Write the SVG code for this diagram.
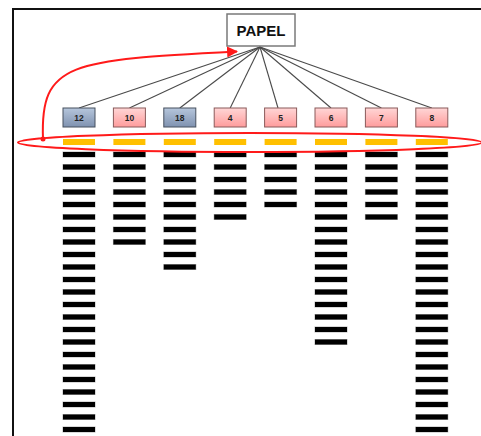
<svg xmlns="http://www.w3.org/2000/svg" width="481" height="436" viewBox="0 0 481 436">
  <style>
    .frame { fill: none; stroke: #111; stroke-width: 2; }
    .link { stroke: #4a4a4a; stroke-width: 1.1; fill: none; }
    .root { fill: #fff; stroke: #7a7a7a; stroke-width: 1.5; }
    .root-text { font-family: "Liberation Sans", Arial, sans-serif; font-weight: bold; font-size: 15px; fill: #111; text-anchor: middle; }
    .box { stroke-width: 1; }
    .blue { fill: url(#gBlue); stroke: #46505f; }
    .pink { fill: url(#gPink); stroke: #8a5a5a; }
    .lbl { font-family: "Liberation Sans", Arial, sans-serif; font-weight: bold; font-size: 8.5px; fill: #222; text-anchor: middle; }
    .head { fill: #FFC000; }
    .bar { fill: #000; stroke: #000; stroke-opacity: 0.3; stroke-width: 1; }
    .loop { fill: none; stroke: #ff1a1a; stroke-width: 2; }
  </style>
  <defs>
    <linearGradient id="gBlue" x1="0" y1="0" x2="0" y2="1">
      <stop offset="0" stop-color="#b6c6dc"/>
      <stop offset="1" stop-color="#7f92b0"/>
    </linearGradient>
    <linearGradient id="gPink" x1="0" y1="0" x2="0" y2="1">
      <stop offset="0" stop-color="#ffd6d6"/>
      <stop offset="1" stop-color="#ff9c9c"/>
    </linearGradient>
    <rect id="bar" width="32" height="5" class="bar"/>
    <marker id="arrow" viewBox="0 0 10 10" refX="9" refY="5" markerWidth="5.5" markerHeight="5.5" orient="auto" markerUnits="strokeWidth">
      <path d="M0,0 L10,5 L0,10 Z" fill="#ff1a1a"/>
    </marker>
  </defs>

  <rect width="481" height="436" fill="#fff"/>
  <!-- outer frame (left and top edges) -->
  <path class="frame" d="M13,436 V9 H481"/>

  <!-- connectors from PAPEL to each stack -->
  <g id="connectors">
    <line class="link" x1="260" y1="47" x2="79" y2="108"/>
    <line class="link" x1="260" y1="47" x2="129.4" y2="108"/>
    <line class="link" x1="260" y1="47" x2="179.8" y2="108"/>
    <line class="link" x1="260" y1="47" x2="230.2" y2="108"/>
    <line class="link" x1="260" y1="47" x2="278" y2="108"/>
    <line class="link" x1="260" y1="47" x2="331" y2="108"/>
    <line class="link" x1="260" y1="47" x2="381.4" y2="108"/>
    <line class="link" x1="260" y1="47" x2="431.8" y2="108"/>
  </g>

  <g id="papel">
    <rect class="root" x="227" y="14" width="68" height="32"/>
    <text class="root-text" x="261" y="36">PAPEL</text>
  </g>

  <!-- stack 12 -->
  <g id="col-12">
    <rect class="box blue" x="63" y="108" width="32" height="19"/>
    <text class="lbl" x="79" y="120.5">12</text>
    <rect class="head" x="63" y="139" width="32" height="6"/>
    <g transform="translate(63,152)">
      <use href="#bar" y="0"/><use href="#bar" y="12.5"/><use href="#bar" y="25"/><use href="#bar" y="37.5"/>
      <use href="#bar" y="50"/><use href="#bar" y="62.5"/><use href="#bar" y="75"/><use href="#bar" y="87.5"/>
      <use href="#bar" y="100"/><use href="#bar" y="112.5"/><use href="#bar" y="125"/><use href="#bar" y="137.5"/>
      <use href="#bar" y="150"/><use href="#bar" y="162.5"/><use href="#bar" y="175"/><use href="#bar" y="187.5"/>
      <use href="#bar" y="200"/><use href="#bar" y="212.5"/><use href="#bar" y="225"/><use href="#bar" y="237.5"/>
      <use href="#bar" y="250"/><use href="#bar" y="262.5"/><use href="#bar" y="275"/>
    </g>
  </g>

  <!-- stack 10 -->
  <g id="col-10">
    <rect class="box pink" x="113.4" y="108" width="32" height="19"/>
    <text class="lbl" x="129.4" y="120.5">10</text>
    <rect class="head" x="113.4" y="139" width="32" height="6"/>
    <g transform="translate(113.4,152)">
      <use href="#bar" y="0"/><use href="#bar" y="12.5"/><use href="#bar" y="25"/><use href="#bar" y="37.5"/>
      <use href="#bar" y="50"/><use href="#bar" y="62.5"/><use href="#bar" y="75"/><use href="#bar" y="87.5"/>
    </g>
  </g>

  <!-- stack 18 -->
  <g id="col-18">
    <rect class="box blue" x="163.8" y="108" width="32" height="19"/>
    <text class="lbl" x="179.8" y="120.5">18</text>
    <rect class="head" x="163.8" y="139" width="32" height="6"/>
    <g transform="translate(163.8,152)">
      <use href="#bar" y="0"/><use href="#bar" y="12.5"/><use href="#bar" y="25"/><use href="#bar" y="37.5"/>
      <use href="#bar" y="50"/><use href="#bar" y="62.5"/><use href="#bar" y="75"/><use href="#bar" y="87.5"/>
      <use href="#bar" y="100"/><use href="#bar" y="112.5"/>
    </g>
  </g>

  <!-- stack 4 -->
  <g id="col-4">
    <rect class="box pink" x="214.2" y="108" width="32" height="19"/>
    <text class="lbl" x="230.2" y="120.5">4</text>
    <rect class="head" x="214.2" y="139" width="32" height="6"/>
    <g transform="translate(214.2,152)">
      <use href="#bar" y="0"/><use href="#bar" y="12.5"/><use href="#bar" y="25"/><use href="#bar" y="37.5"/>
      <use href="#bar" y="50"/><use href="#bar" y="62.5"/>
    </g>
  </g>

  <!-- stack 5 -->
  <g id="col-5">
    <rect class="box pink" x="264.6" y="108" width="32" height="19"/>
    <text class="lbl" x="280.6" y="120.5">5</text>
    <rect class="head" x="264.6" y="139" width="32" height="6"/>
    <g transform="translate(264.6,152)">
      <use href="#bar" y="0"/><use href="#bar" y="12.5"/><use href="#bar" y="25"/><use href="#bar" y="37.5"/>
      <use href="#bar" y="50"/>
    </g>
  </g>

  <!-- stack 6 -->
  <g id="col-6">
    <rect class="box pink" x="315" y="108" width="32" height="19"/>
    <text class="lbl" x="331" y="120.5">6</text>
    <rect class="head" x="315" y="139" width="32" height="6"/>
    <g transform="translate(315,152)">
      <use href="#bar" y="0"/><use href="#bar" y="12.5"/><use href="#bar" y="25"/><use href="#bar" y="37.5"/>
      <use href="#bar" y="50"/><use href="#bar" y="62.5"/><use href="#bar" y="75"/><use href="#bar" y="87.5"/>
      <use href="#bar" y="100"/><use href="#bar" y="112.5"/><use href="#bar" y="125"/><use href="#bar" y="137.5"/>
      <use href="#bar" y="150"/><use href="#bar" y="162.5"/><use href="#bar" y="175"/><use href="#bar" y="187.5"/>
    </g>
  </g>

  <!-- stack 7 -->
  <g id="col-7">
    <rect class="box pink" x="365.4" y="108" width="32" height="19"/>
    <text class="lbl" x="381.4" y="120.5">7</text>
    <rect class="head" x="365.4" y="139" width="32" height="6"/>
    <g transform="translate(365.4,152)">
      <use href="#bar" y="0"/><use href="#bar" y="12.5"/><use href="#bar" y="25"/><use href="#bar" y="37.5"/>
      <use href="#bar" y="50"/><use href="#bar" y="62.5"/>
    </g>
  </g>

  <!-- stack 8 -->
  <g id="col-8">
    <rect class="box pink" x="415.8" y="108" width="32" height="19"/>
    <text class="lbl" x="431.8" y="120.5">8</text>
    <rect class="head" x="415.8" y="139" width="32" height="6"/>
    <g transform="translate(415.8,152)">
      <use href="#bar" y="0"/><use href="#bar" y="12.5"/><use href="#bar" y="25"/><use href="#bar" y="37.5"/>
      <use href="#bar" y="50"/><use href="#bar" y="62.5"/><use href="#bar" y="75"/><use href="#bar" y="87.5"/>
      <use href="#bar" y="100"/><use href="#bar" y="112.5"/><use href="#bar" y="125"/><use href="#bar" y="137.5"/>
      <use href="#bar" y="150"/><use href="#bar" y="162.5"/><use href="#bar" y="175"/><use href="#bar" y="187.5"/>
      <use href="#bar" y="200"/><use href="#bar" y="212.5"/><use href="#bar" y="225"/><use href="#bar" y="237.5"/>
      <use href="#bar" y="250"/><use href="#bar" y="262.5"/><use href="#bar" y="275"/>
    </g>
  </g>

  <!-- highlight round the top row and the return loop to PAPEL -->
  <g id="loop">
    <ellipse class="loop" cx="250" cy="142.5" rx="232" ry="9.5"/>
    <path class="loop" d="M43,139 C40,62 70,60 237,51.5" marker-end="url(#arrow)"/>
    <circle cx="43" cy="139" r="2.5" fill="#ff1a1a"/>
  </g>
</svg>
